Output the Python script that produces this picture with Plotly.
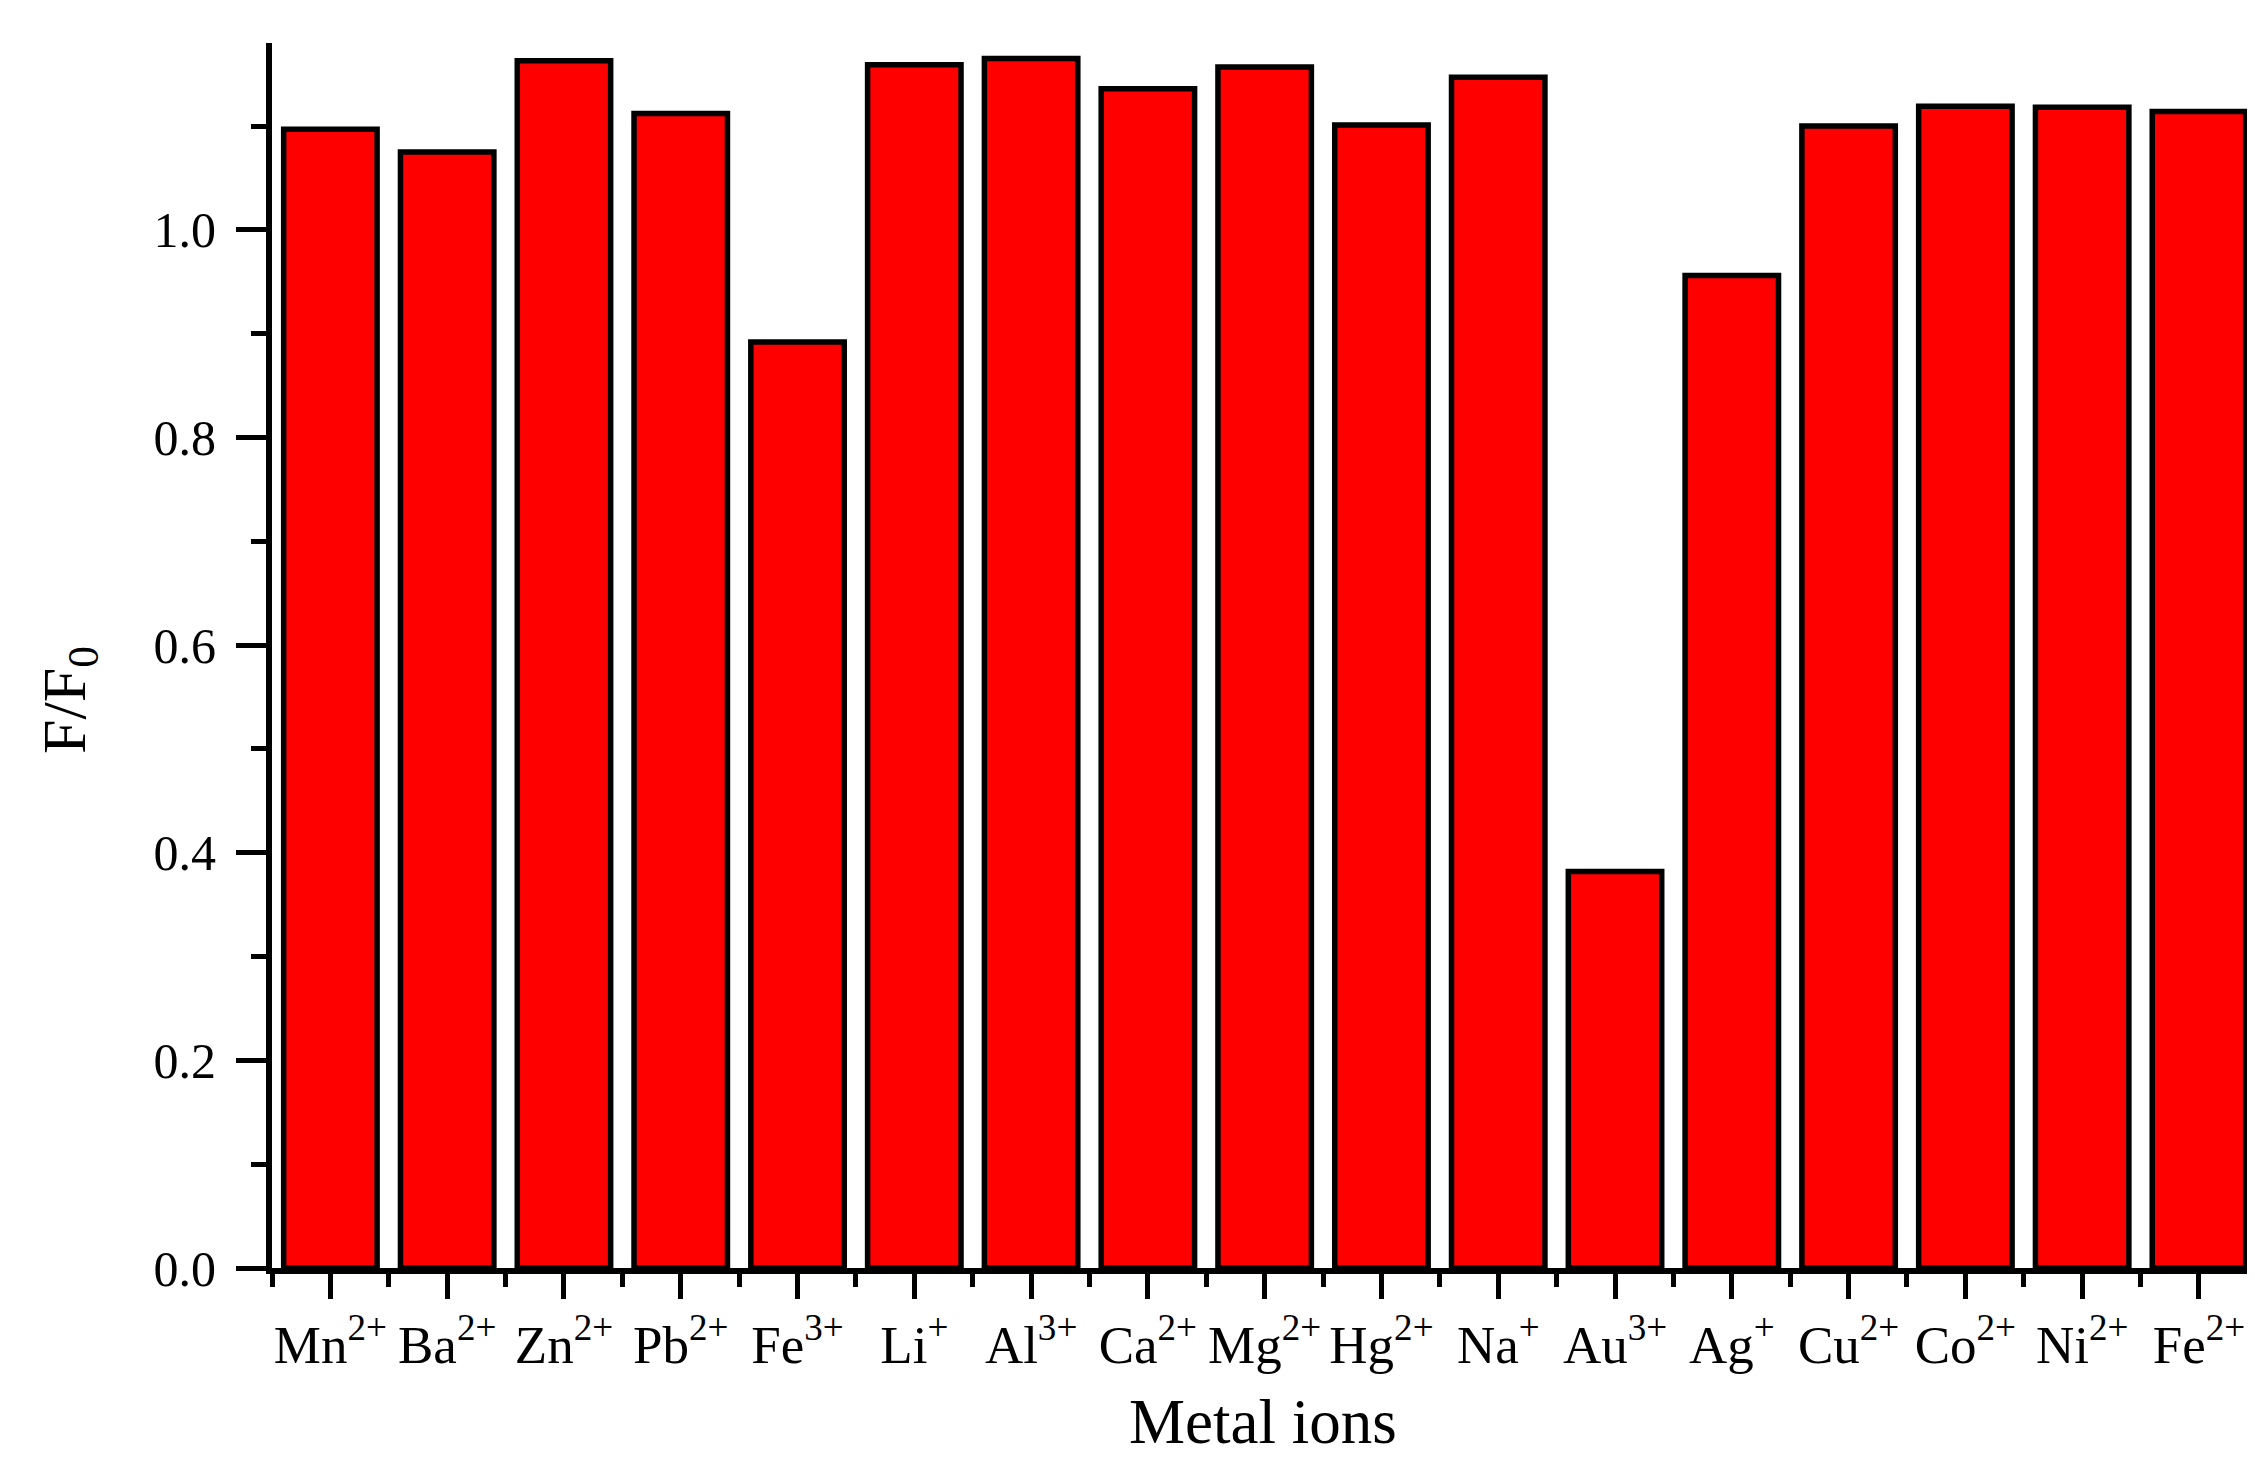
import plotly.graph_objects as go

ions = ["Mn<sup>2+</sup>", "Ba<sup>2+</sup>", "Zn<sup>2+</sup>", "Pb<sup>2+</sup>", "Fe<sup>3+</sup>",
        "Li<sup>+</sup>", "Al<sup>3+</sup>", "Ca<sup>2+</sup>", "Mg<sup>2+</sup>", "Hg<sup>2+</sup>",
        "Na<sup>+</sup>", "Au<sup>3+</sup>", "Ag<sup>+</sup>", "Cu<sup>2+</sup>", "Co<sup>2+</sup>",
        "Ni<sup>2+</sup>", "Fe<sup>2+</sup>"]
ratio = [1.097, 1.075, 1.163, 1.112, 0.892, 1.159, 1.165, 1.136, 1.157, 1.101,
         1.147, 0.382, 0.956, 1.100, 1.119, 1.118, 1.114]
positions = list(range(len(ions)))
y_ticks = [0.0, 0.2, 0.4, 0.6, 0.8, 1.0]
y_tick_text = ["0.0", "0.2", "0.4", "0.6", "0.8", "1.0"]
x_title = "Metal ions"
y_title = "F/F<sub>0</sub>"

FONT = "Liberation Serif, Times New Roman, serif"

# figure is offset by the page's 8px body margin
W, H = 2247, 1453
L, T, B, R = 264, 35, 193, 0
PW, PH = W - L - R, H - T - B


def px_to_paper(x, y):
    return (x - L) / PW, (H - B - y) / PH


fig = go.Figure(go.Bar(
    x=positions, y=ratio, width=0.8,
    marker=dict(color="#ff0000", line=dict(color="black", width=5.5)),
))

fig.update_layout(
    width=W, height=H,
    margin=dict(l=L, r=R, t=T, b=B),
    paper_bgcolor="white", plot_bgcolor="white",
    showlegend=False,
    font=dict(family=FONT, color="black"),
)

fig.update_xaxes(
    range=[-0.5, 16.48],
    tickmode="array", tickvals=positions, ticktext=ions,
    ticks="outside", ticklen=25, tickwidth=5, tickcolor="black",
    minor=dict(tickmode="array", tickvals=[p - 0.5 for p in positions] + [16.5],
               ticks="outside", ticklen=13, tickwidth=5, tickcolor="black"),
    showline=True, linewidth=6, linecolor="black",
    showgrid=False, zeroline=False,
    tickfont=dict(family=FONT, size=53, color="black"),
)

fig.update_yaxes(
    range=[0, 1.18],
    tickmode="array", tickvals=y_ticks, ticktext=y_tick_text,
    ticks="outside", ticklen=30, tickwidth=5, tickcolor="black",
    minor=dict(tickmode="linear", tick0=0.1, dtick=0.2,
               ticks="outside", ticklen=15, tickwidth=5, tickcolor="black"),
    showline=True, linewidth=6, linecolor="black",
    showgrid=False, zeroline=False,
    tickfont=dict(family=FONT, size=50, color="black"),
    ticklabelstandoff=10,
)

xt, yt = px_to_paper(1255, 1414)
fig.add_annotation(text=x_title, xref="paper", yref="paper",
                   x=xt, y=yt,
                   xanchor="center", yanchor="middle", showarrow=False,
                   font=dict(family=FONT, size=63, color="black"))
xy, yy = px_to_paper(60, 692)
fig.add_annotation(text=y_title, xref="paper", yref="paper",
                   x=xy, y=yy,
                   xanchor="center", yanchor="middle", showarrow=False, textangle=-90,
                   font=dict(family=FONT, size=62, color="black"))

fig.write_html("out.html")
